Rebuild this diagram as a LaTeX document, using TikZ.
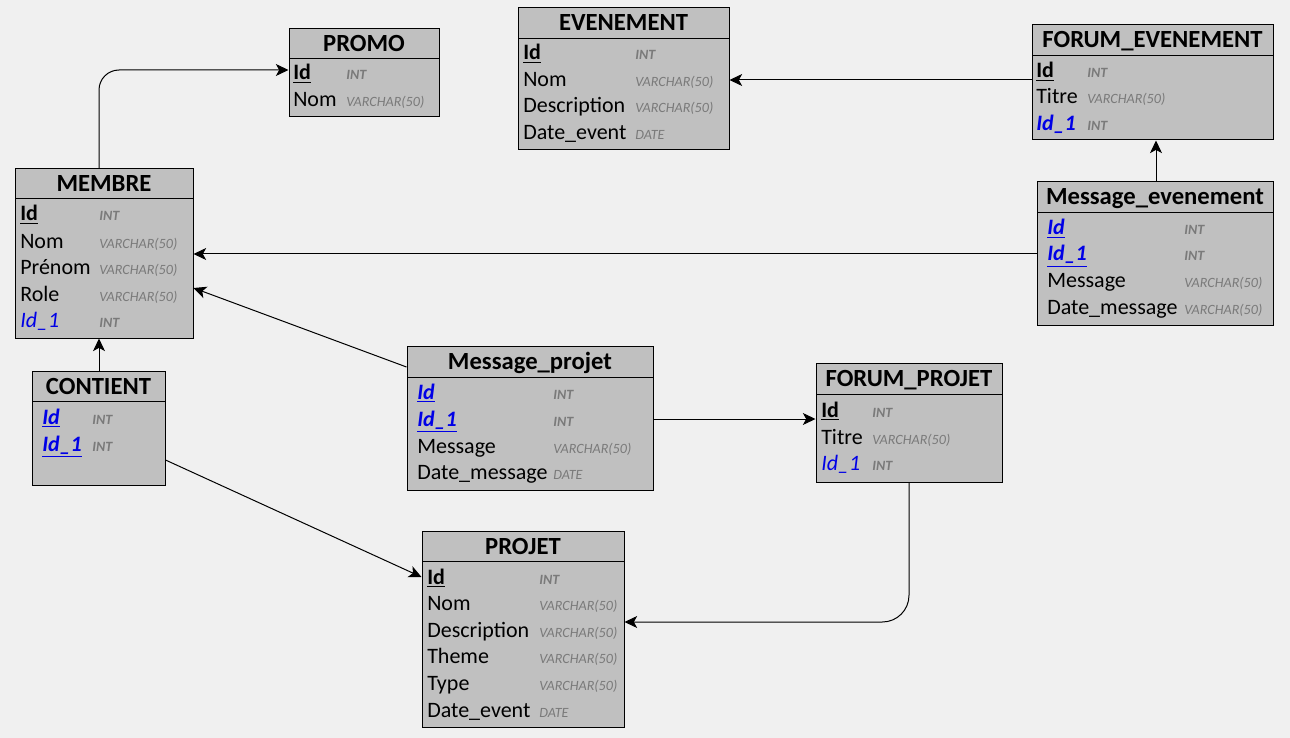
\documentclass[tikz,border=0pt]{standalone}
\usepackage{fontspec}
\setmainfont{Carlito}
\usetikzlibrary{arrows.meta,fit,calc}
\definecolor{bgc}{HTML}{F0F0F0}
\definecolor{boxc}{HTML}{C0C0C0}
\definecolor{typc}{HTML}{7A7A7A}
\definecolor{fkc}{HTML}{0000E6}
\tikzset{
  tablebox/.style={draw=black, fill=boxc, line width=0.75pt, inner sep=0pt},
  ttl/.style={font=\fontsize{18.5}{22}\selectfont\bfseries, anchor=base, inner sep=0pt},
  fld/.style={font=\fontsize{16.5}{19}\selectfont, anchor=base west, inner sep=0pt},
  typ/.style={font=\fontsize{10.6}{12}\selectfont\itshape, text=typc, anchor=base west, inner sep=0pt},
  link/.style={draw=black, line width=0.75pt, -{Stealth[length=9.5pt,width=9pt,inset=2.5pt]}},
  sepline/.style={draw=black, line width=0.75pt}
}
\newcommand\ertable[7]{%
  \coordinate (#1-nw) at (#2,#3);
  \coordinate (#1-se) at (#4,#5);
  \node[tablebox, fit=(#1-nw)(#1-se)] (#1) {};
  \node[ttl] (#1-title) at ({(#2+#4)/2},{#3+23}) {#6};
  \draw[sepline] (#2,#7) -- (#4,#7);
}
\newcommand\errow[7]{%
  \node[fld] (#1-n#2) at (#3,{#5+7}) {#6};
  \node[typ] (#1-t#2) at (#4,{#5+7}) {#7};
}
\newcommand\erpk[1]{\textbf{\underline{#1}}}
\newcommand\erfk[1]{\textcolor{fkc}{\textit{#1}}}
\newcommand\erfkb[1]{\textcolor{fkc}{\textbf{\textit{#1}}}}
\newcommand\erpfk[1]{\textcolor{fkc}{\textbf{\textit{\underline{#1}}}}}
\newcommand\tint{\textbf{INT}}
\newcommand\tvc{VARCHAR(50)}
\newcommand\tdate{DATE}
\begin{document}
\begin{tikzpicture}[x=0.75pt, y=-0.75pt]
\useasboundingbox (0,0) rectangle (1290,738);
\fill[bgc] (0,0) rectangle (1290,738);

% PROMO
\ertable{promo}{289}{29}{439}{117}{PROMO}{59}
\errow{promo}{1}{293}{346}{73}{\erpk{Id}}{\tint}
\errow{promo}{2}{293}{346}{100}{Nom}{\tvc}

% EVENEMENT
\ertable{evt}{518}{8}{729}{150}{EVENEMENT}{39}
\errow{evt}{1}{523}{635}{53}{\erpk{Id}}{\tint}
\errow{evt}{2}{523}{635}{80}{Nom}{\tvc}
\errow{evt}{3}{523}{635}{106}{Description}{\tvc}
\errow{evt}{4}{523}{635}{133}{Date\_event}{\tdate}

% FORUM_EVENEMENT
\ertable{fevt}{1032}{25}{1273}{140}{FORUM\_EVENEMENT}{56}
\errow{fevt}{1}{1036}{1087}{71}{\erpk{Id}}{\tint}
\errow{fevt}{2}{1036}{1087}{97}{Titre}{\tvc}
\errow{fevt}{3}{1036}{1087}{124}{\erfkb{Id\_1}}{\tint}

% Message_evenement
\ertable{mevt}{1037}{182}{1273}{326}{Message\_evenement}{213}
\errow{mevt}{1}{1047}{1184}{228}{\erpfk{Id}}{\tint}
\errow{mevt}{2}{1047}{1184}{254}{\erpfk{Id\_1}}{\tint}
\errow{mevt}{3}{1047}{1184}{281}{Message}{\tvc}
\errow{mevt}{4}{1047}{1184}{308}{Date\_message}{\tvc}

% MEMBRE
\ertable{membre}{15}{169}{193}{338}{MEMBRE}{199}
\errow{membre}{1}{20}{99}{214}{\erpk{Id}}{\tint}
\errow{membre}{2}{20}{99}{241}{Nom}{\tvc}
\errow{membre}{3}{20}{99}{268}{Prénom}{\tvc}
\errow{membre}{4}{20}{99}{294}{Role}{\tvc}
\errow{membre}{5}{20}{99}{321}{\erfk{Id\_1}}{\tint}

% CONTIENT
\ertable{contient}{32}{371}{165}{485}{CONTIENT}{401}
\errow{contient}{1}{42}{92}{417}{\erpfk{Id}}{\tint}
\errow{contient}{2}{42}{92}{444}{\erpfk{Id\_1}}{\tint}

% Message_projet
\ertable{mproj}{407}{346}{653}{490}{Message\_projet}{377}
\errow{mproj}{1}{417}{553}{392}{\erpfk{Id}}{\tint}
\errow{mproj}{2}{417}{553}{419}{\erpfk{Id\_1}}{\tint}
\errow{mproj}{3}{417}{553}{446}{Message}{\tvc}
\errow{mproj}{4}{417}{553}{472}{Date\_message}{\tdate}

% FORUM_PROJET
\ertable{fproj}{816}{363}{1002}{482}{FORUM\_PROJET}{394}
\errow{fproj}{1}{821}{872}{410}{\erpk{Id}}{\tint}
\errow{fproj}{2}{821}{872}{437}{Titre}{\tvc}
\errow{fproj}{3}{821}{872}{463}{\erfk{Id\_1}}{\tint}

% PROJET
\ertable{projet}{422}{531}{624}{727}{PROJET}{561}
\errow{projet}{1}{427}{539}{577}{\erpk{Id}}{\tint}
\errow{projet}{2}{427}{539}{603}{Nom}{\tvc}
\errow{projet}{3}{427}{539}{630}{Description}{\tvc}
\errow{projet}{4}{427}{539}{656}{Theme}{\tvc}
\errow{projet}{5}{427}{539}{683}{Type}{\tvc}
\errow{projet}{6}{427}{539}{710}{Date\_event}{\tdate}

% connectors
\draw[link, rounded corners=15pt] (membre.north -| 99,0) |- (promo.west |- 0,70);
\draw[link] (fevt.west |- 0,80) -- (evt.east |- 0,80);
\draw[link] (mevt.north -| 1156,0) -- (fevt.south -| 1156,0);
\draw[link] (mevt.west |- 0,254) -- (membre.east |- 0,254);
\draw[link] (mproj.west |- 0,367) -- (membre.east |- 0,288);
\draw[link] (contient.north -| 99,0) -- (membre.south -| 99,0);
\draw[link] (contient.east |- 0,460) -- (projet.west |- 0,577);
\draw[link] (mproj.east |- 0,419) -- (fproj.west |- 0,419);
\draw[link, rounded corners=20pt] (fproj.south -| 909,0) |- (projet.east |- 0,622);
\end{tikzpicture}
\end{document}
